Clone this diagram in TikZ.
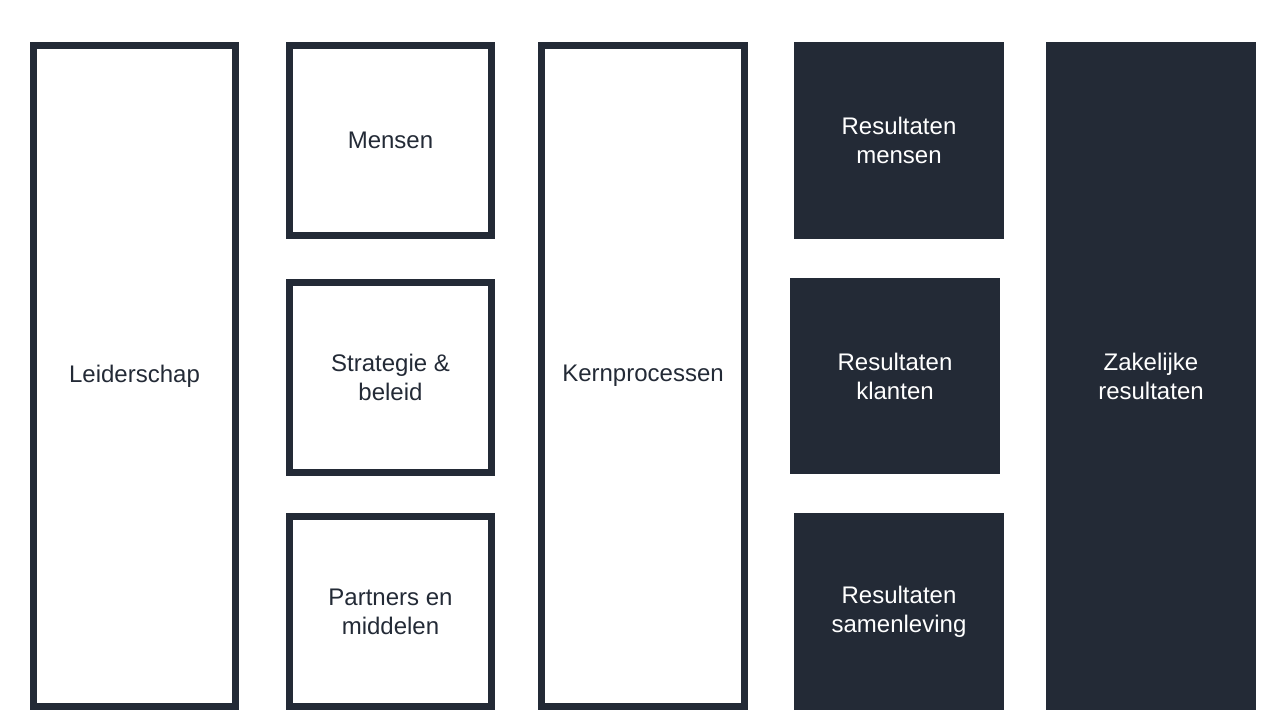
\documentclass[tikz,border=0pt]{standalone}
\usepackage{fontspec}
\setmainfont{Liberation Sans}
\definecolor{donker}{HTML}{232A36}
\begin{document}
\begin{tikzpicture}[x=1pt,y=1pt,
	open/.style={draw=donker,line width=7pt,text=donker,align=center,inner sep=0pt,minimum width=202pt,font=\fontsize{24}{29}\selectfont},
	vol/.style={fill=donker,text=white,align=center,inner sep=0pt,minimum width=210pt,font=\fontsize{24}{29}\selectfont}]
	\useasboundingbox (0,0) rectangle (1280,720);
	%\draw[step=40,gray!30] (0,0) grid (1280,720); %Hilfsgitter
	\node[open,minimum height=661pt] (L) at (134.5,344) {Leiderschap};
	\node[open,minimum height=190pt] (M) at (390.5,579.5) {Mensen}; \node[open,minimum height=190pt] (S) at (390.5,342.5) {Strategie \&\\beleid}; \node[open,minimum height=190pt] (P) at (390.5,108.5) {Partners en\\middelen};
	\node[open,minimum width=203pt,minimum height=661pt] (K) at (643,344) {Kernprocessen};
	
	\node[vol,minimum height=197pt] (RM) at (899,579.5) {Resultaten\\mensen}; \node[vol,minimum height=196pt] (RK) at (895,344) {Resultaten\\klanten}; \node[vol,minimum height=197pt] (RS) at (899,108.5) {Resultaten\\samenleving};
	\node[vol,minimum height=668pt] (Z) at (1151,344) {Zakelijke\\resultaten};
\end{tikzpicture}
\end{document}
